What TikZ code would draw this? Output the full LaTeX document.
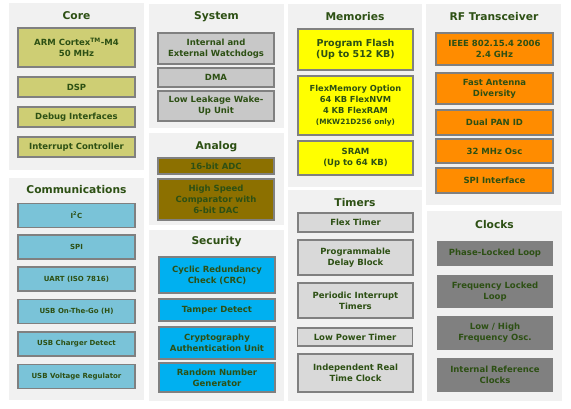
\documentclass[tikz,border=0pt]{standalone}
\usepackage{fontspec}
\setmainfont{DejaVu Sans}
\definecolor{txt}{RGB}{45,80,20}
\definecolor{panelC}{RGB}{241,241,241}
\definecolor{edgeC}{RGB}{128,128,128}
\definecolor{coreC}{RGB}{206,206,116}
\definecolor{sysC}{RGB}{200,200,200}
\definecolor{anaC}{RGB}{140,112,0}
\definecolor{memC}{RGB}{255,255,0}
\definecolor{rfC}{RGB}{255,140,0}
\definecolor{comC}{RGB}{122,195,216}
\definecolor{secC}{RGB}{0,176,240}
\definecolor{tmrC}{RGB}{217,217,217}
\definecolor{clkC}{RGB}{128,128,128}
\tikzset{x=1pt,y=-1pt,
  every node/.style={font=\bfseries\fontsize{8.5}{11}\selectfont,text=txt,align=center,inner sep=0pt},
  panel/.style={fill=panelC},
  title/.style={font=\bfseries\fontsize{10.7}{12}\selectfont},
  blk/.style={draw=edgeC,line width=1.2pt},
  coreblk/.style={blk,fill=coreC,minimum width=117},
  sysblk/.style={blk,fill=sysC,minimum width=116},
  anablk/.style={blk,fill=anaC,minimum width=116},
  memblk/.style={blk,fill=memC,minimum width=115},
  rfblk/.style={blk,fill=rfC,minimum width=117},
  comblk/.style={blk,fill=comC,minimum width=117,minimum height=24,font=\bfseries\fontsize{7}{9}\selectfont},
  secblk/.style={blk,fill=secC,minimum width=116},
  tmrblk/.style={blk,fill=tmrC,minimum width=115},
  clkblk/.style={fill=clkC,minimum width=116}}
\newcommand{\memlarge}{\fontsize{9.5}{14}\selectfont}
\newcommand{\memmid}{\fontsize{8.3}{11.3}\selectfont}
\newcommand{\memsmall}{\fontsize{7.3}{11.3}\selectfont}
\begin{document}
\begin{tikzpicture}
\useasboundingbox[fill=white] (0,0) rectangle (571,408);
\fill[panel] (9,3) rectangle (144,170);
\fill[panel] (9,178) rectangle (144,400);
\fill[panel] (149,4) rectangle (284,128);
\fill[panel] (149,133) rectangle (284,225);
\fill[panel] (149,230) rectangle (284,401);
\fill[panel] (288,4) rectangle (422,187);
\fill[panel] (288,190) rectangle (422,401);
\fill[panel] (426,4) rectangle (561,205);
\fill[panel] (427,211) rectangle (562,401);

\node[title] (core) at (76.5,16) {Core};
\node[coreblk,minimum height=39] (arm) at (76.5,47.5) {ARM Cortex\textsuperscript{TM}-M4\\50 MHz};
\node[coreblk,minimum height=20] (dsp) at (76.5,87) {DSP};
\node[coreblk,minimum height=20] (debug) at (76.5,117) {Debug Interfaces};
\node[coreblk,minimum height=20] (intc) at (76.5,147) {Interrupt Controller};

\node[title] (comm) at (76.5,190) {Communications};
\node[comblk] (i2c) at (76.5,215.5) {I\textsuperscript{2}C};
\node[comblk] (spi) at (76.5,247) {SPI};
\node[comblk] (uart) at (76.5,279) {UART (ISO 7816)};
\node[comblk] (otg) at (76.5,311.5) {USB On-The-Go (H)};
\node[comblk] (chg) at (76.5,344) {USB Charger Detect};
\node[comblk] (vreg) at (76.5,376.5) {USB Voltage Regulator};

\node[title] (sys) at (216.5,17) {System};
\node[sysblk,minimum height=31] (wdog) at (216,48.5) {Internal and\\External Watchdogs};
\node[sysblk,minimum height=19] (dma) at (216,77.5) {DMA};
\node[sysblk,minimum height=30] (llwu) at (216,106) {Low Leakage Wake-\\Up Unit};

\node[title] (ana) at (216.5,147) {Analog};
\node[anablk,minimum height=16] (adc) at (216,166) {16-bit ADC};
\node[anablk,minimum height=41] (cmp) at (216,199.5) {High Speed\\Comparator with\\6-bit DAC};

\node[title] (sec) at (216.5,242) {Security};
\node[secblk,minimum height=36] (crc) at (217,275) {Cyclic Redundancy\\Check (CRC)};
\node[secblk,minimum height=22] (tamper) at (217,310) {Tamper Detect};
\node[secblk,minimum height=32] (crypto) at (217,343) {Cryptography\\Authentication Unit};
\node[secblk,minimum height=29] (rng) at (217,377.5) {Random Number\\Generator};

\node[title] (mem) at (355,17) {Memories};
\node[memblk,minimum height=41] (pflash) at (355.5,49.5) {\memlarge Program Flash\\\memlarge (Up to 512 KB)};
\node[memblk,minimum height=59] (flexmem) at (355.5,105.5) {\memmid FlexMemory Option\\\memmid 64 KB FlexNVM\\\memmid 4 KB FlexRAM\\\memsmall (MKW21D256 only)};
\node[memblk,minimum height=34] (sram) at (355.5,158) {SRAM\\(Up to 64 KB)};

\node[title] (tmr) at (355,203) {Timers};
\node[tmrblk,minimum height=19] (ftm) at (355.5,222.5) {Flex Timer};
\node[tmrblk,minimum height=35] (pdb) at (355.5,257.5) {Programmable\\Delay Block};
\node[tmrblk,minimum height=35] (pit) at (355.5,300.5) {Periodic Interrupt\\Timers};
\node[tmrblk,minimum height=18] (lptmr) at (355,337) {Low Power Timer};
\node[tmrblk,minimum height=38] (rtc) at (355.5,373) {Independent Real\\Time Clock};

\node[title] (rf) at (494,17) {RF Transceiver};
\node[rfblk,minimum height=32] (ieee) at (494.5,49) {IEEE 802.15.4 2006\\2.4 GHz};
\node[rfblk,minimum height=31] (fad) at (494.5,88.5) {Fast Antenna\\Diversity};
\node[rfblk,minimum height=25] (pan) at (494.5,122.5) {Dual PAN ID};
\node[rfblk,minimum height=24] (osc) at (494.5,151) {32 MHz Osc};
\node[rfblk,minimum height=25] (spiif) at (494.5,180.5) {SPI Interface};

\node[title] (clk) at (494.5,225) {Clocks};
\node[clkblk,minimum height=25] (pll) at (495,253.5) {Phase-Locked Loop};
\node[clkblk,minimum height=33] (fll) at (495,291.5) {Frequency Locked\\Loop};
\node[clkblk,minimum height=34] (lhosc) at (495,333) {Low / High\\Frequency Osc.};
\node[clkblk,minimum height=34] (irc) at (495,375) {Internal Reference\\Clocks};
\end{tikzpicture}
\end{document}
